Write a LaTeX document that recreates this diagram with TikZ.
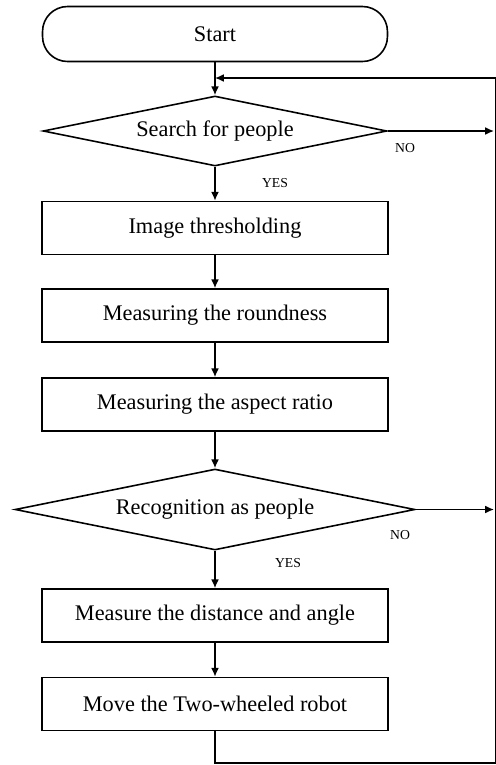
\documentclass[tikz,border=0pt]{standalone}
\usepackage{fontspec}
\setmainfont{Liberation Serif}
\usetikzlibrary{arrows.meta, positioning, shapes.geometric}

\begin{document}
\begin{tikzpicture}[
      x=0.02cm, y=-0.02cm,
      font=\fontsize{12.7}{15}\selectfont,
      term/.style={rounded corners=0.5cm, draw=black, line width=0.9pt,
                   minimum width=6.9cm, minimum height=1.1cm, inner sep=0pt},
      box/.style={draw=black, line width=0.9pt,
                  minimum width=6.92cm, minimum height=1.06cm, inner sep=0pt},
      dec/.style={diamond, draw=black, line width=0.9pt, inner sep=0pt},
      lbl/.style={font=\fontsize{7.8}{9}\selectfont},
      ar/.style={-{Latex[length=5pt,width=4.5pt]}, black, line width=0.9pt},
    ]
    \useasboundingbox[fill=white] (0,0) rectangle (495,765);

    \node[term] (start) at (215,34) {Start};
    \node[dec, aspect=4.9, minimum width=6.88cm, minimum height=1.4cm]
         (srch) at (215,131) {Search for people};
    \node[box] (thr) at (215,228) {Image thresholding};
    \node[box] (rnd) at (215,315.5) {Measuring the roundness};
    \node[box] (asp) at (215,404.5) {Measuring the aspect ratio};
    \node[dec, aspect=4.94, minimum width=8cm, minimum height=1.62cm]
         (recog) at (215,509.5) {Recognition as people};
    \node[box] (dist) at (215,615.5) {Measure the distance and angle};
    \node[box] (move) at (215,704) {Move the Two-wheeled robot};

    \node[lbl] (no1)  at (405,148) {NO};
    \node[lbl] (yes1) at (275,183) {YES};
    \node[lbl] (no2)  at (400,535) {NO};
    \node[lbl] (yes2) at (288,563) {YES};

    \coordinate (join) at (215,78);
    \coordinate (rtop) at (495.3,78);
    \coordinate (rbot) at (495.3,763);
    \coordinate (tip)  at (494,0);

    \draw[ar] (start) -- (srch);
    \draw[ar] (srch) -- (thr);
    \draw[ar] (thr) -- (rnd);
    \draw[ar] (rnd) -- (asp);
    \draw[ar] (asp) -- (recog);
    \draw[ar] (recog) -- (dist);
    \draw[ar] (dist) -- (move);

    \draw[ar] (srch.east) -- (srch.east -| tip);
    \draw[ar] (recog.east) -- (recog.east -| tip);
    \draw[ar] (move.south) |- (rbot) -- (rtop) -- (join);
  \end{tikzpicture}
\end{document}
